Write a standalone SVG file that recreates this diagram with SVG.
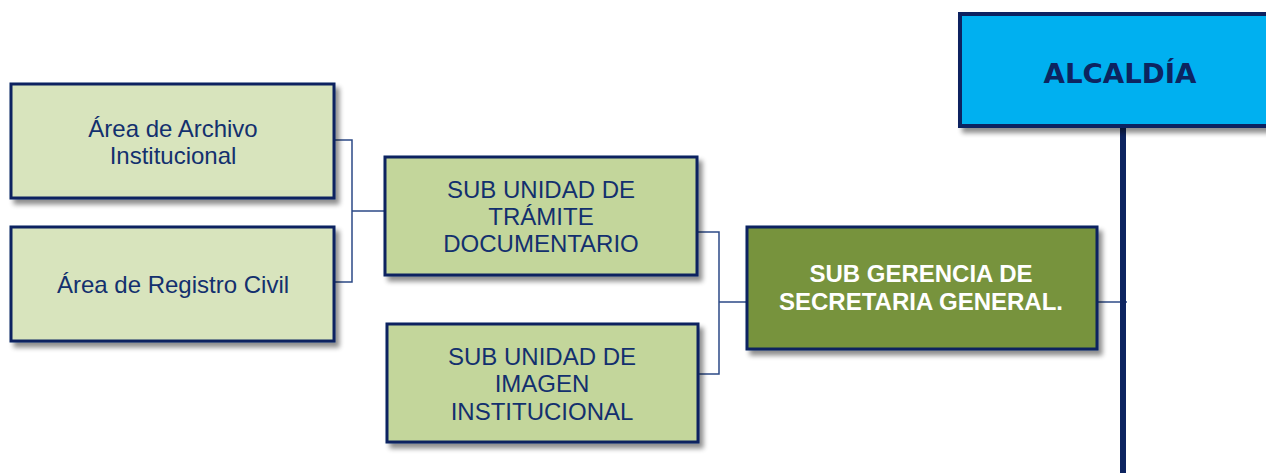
<svg xmlns="http://www.w3.org/2000/svg" width="1266" height="473" viewBox="0 0 1266 473">
<defs>
<filter id="sh" x="-10%" y="-10%" width="130%" height="140%">
<feGaussianBlur in="SourceAlpha" stdDeviation="2.5"/>
<feOffset dx="4" dy="5" result="b"/>
<feComponentTransfer><feFuncA type="linear" slope="0.45"/></feComponentTransfer>
<feMerge><feMergeNode/><feMergeNode in="SourceGraphic"/></feMerge>
</filter>
</defs>
<style>
.box{stroke:#0d2460;stroke-width:3}
.lt{fill:#d8e4bd}
.md{fill:#c3d69b}
.dk{fill:#77933c}
.t{font-family:"Liberation Sans",Arial,sans-serif;font-size:24px;fill:#13306e;text-anchor:middle}
.tw{font-family:"Liberation Sans",Arial,sans-serif;font-size:24px;font-weight:bold;fill:#ffffff;text-anchor:middle}
.con{fill:none;stroke:#2c4a86;stroke-width:1.5}
</style>
<g id="connectors">
<path class="con" d="M334 140 H352 V282 H334 M352 211 H385"/>
<path class="con" d="M697 232 H719 V374 H698 M719 302 H747"/>
<path class="con" d="M1097 302 H1127"/>
<rect x="1120" y="125" width="6" height="348" fill="#0d2460"/>
</g>
<g id="alcaldia">
<rect x="960" y="14" width="320" height="112" fill="#00b0f0" stroke="#0d2460" stroke-width="4" filter="url(#sh)"/>
<text x="1120" y="83" font-family="'DejaVu Sans',sans-serif" font-size="27" font-weight="bold" fill="#0d2460" text-anchor="middle" textLength="153" lengthAdjust="spacingAndGlyphs">ALCALDÍA</text>
</g>
<g id="archivo">
<rect class="box lt" x="11" y="84" width="323" height="114" filter="url(#sh)"/>
<text class="t" x="173" y="137">Área de Archivo</text>
<text class="t" x="173" y="164">Institucional</text>
</g>
<g id="registro">
<rect class="box lt" x="11" y="227" width="323" height="114" filter="url(#sh)"/>
<text class="t" x="173" y="293">Área de Registro Civil</text>
</g>
<g id="tramite">
<rect class="box md" x="385" y="157" width="312" height="118" filter="url(#sh)"/>
<text class="t" x="541" y="198">SUB UNIDAD DE</text>
<text class="t" x="541" y="225">TRÁMITE</text>
<text class="t" x="541" y="252">DOCUMENTARIO</text>
</g>
<g id="imagen">
<rect class="box md" x="387" y="324" width="311" height="118" filter="url(#sh)"/>
<text class="t" x="542" y="365">SUB UNIDAD DE</text>
<text class="t" x="542" y="392">IMAGEN</text>
<text class="t" x="542" y="420">INSTITUCIONAL</text>
</g>
<g id="subgerencia">
<rect class="box dk" x="747" y="227" width="350" height="122" filter="url(#sh)"/>
<text class="tw" x="921" y="282">SUB GERENCIA DE</text>
<text class="tw" x="921" y="310">SECRETARIA GENERAL.</text>
</g>
</svg>
